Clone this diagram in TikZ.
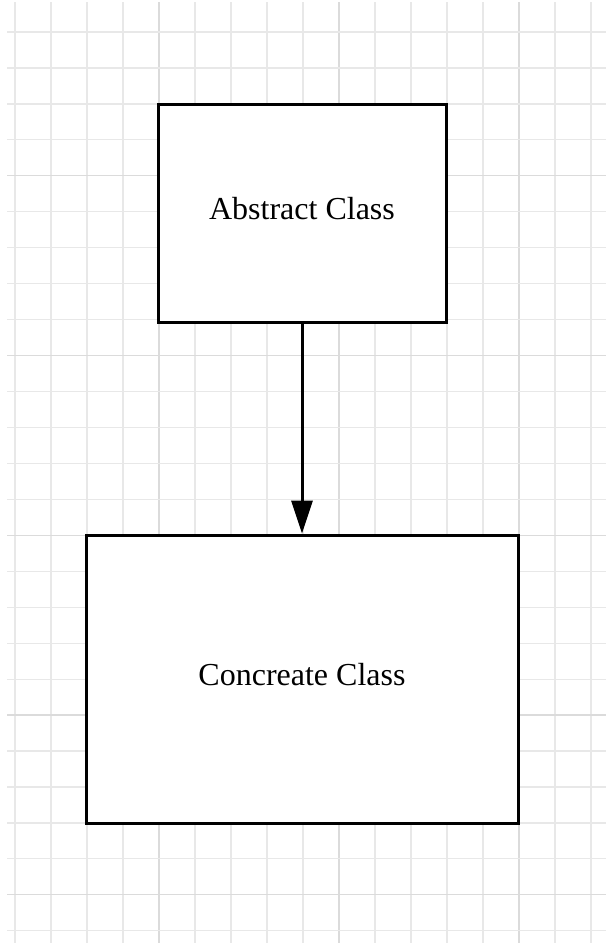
\documentclass[tikz,border=0pt]{standalone}
\usepackage{fontspec}
\setmainfont{Liberation Serif}
\usetikzlibrary{arrows.meta}
\begin{document}
\begin{tikzpicture}[x=1pt,y=-1pt,
  minorgrid/.style={draw=black!9,line width=1.2pt},
  majorgrid/.style={draw=black!14,line width=1.2pt},
  classbox/.style={draw=black,line width=3pt,fill=white,inner sep=0pt},
  classname/.style={font=\fontsize{32}{36}\selectfont,inner sep=0pt},
  inherit/.style={line width=3pt,-{Triangle[width=21pt,length=33pt]}}]
  % page and background
  \useasboundingbox (0,0) rectangle (610,948);
  \fill[white] (0,0) rectangle (610,948);
  % squared paper: 36pt cells, every fifth line a little darker
  \foreach \i in {0,...,16}{
    \pgfmathsetmacro{\gx}{15+36*\i}
    \pgfmathtruncatemacro{\m}{mod(\i,5)}
    \ifnum\m=4
      \draw[majorgrid] (\gx,2) -- (\gx,943);
    \else
      \draw[minorgrid] (\gx,2) -- (\gx,943);
    \fi
  }
  \foreach \j in {0,...,25}{
    \pgfmathsetmacro{\gy}{32+35.95*\j}
    \pgfmathtruncatemacro{\m}{mod(\j,5)}
    \ifnum\m=4
      \draw[majorgrid] (7,\gy) -- (606,\gy);
    \else
      \draw[minorgrid] (7,\gy) -- (606,\gy);
    \fi
  }
  % classes
  \node[classbox,minimum width=288pt,minimum height=218pt] (abstract) at (302,213) {};
  \node[classname] (abstractname) at (302,209) {Abstract Class};
  \node[classbox,minimum width=432pt,minimum height=288pt] (concrete) at (302,679) {};
  \node[classname] (concretename) at (302,675) {Concreate Class};
  % inheritance arrow
  \draw[inherit] (abstract.south) -- (concrete.north);
\end{tikzpicture}
\end{document}
